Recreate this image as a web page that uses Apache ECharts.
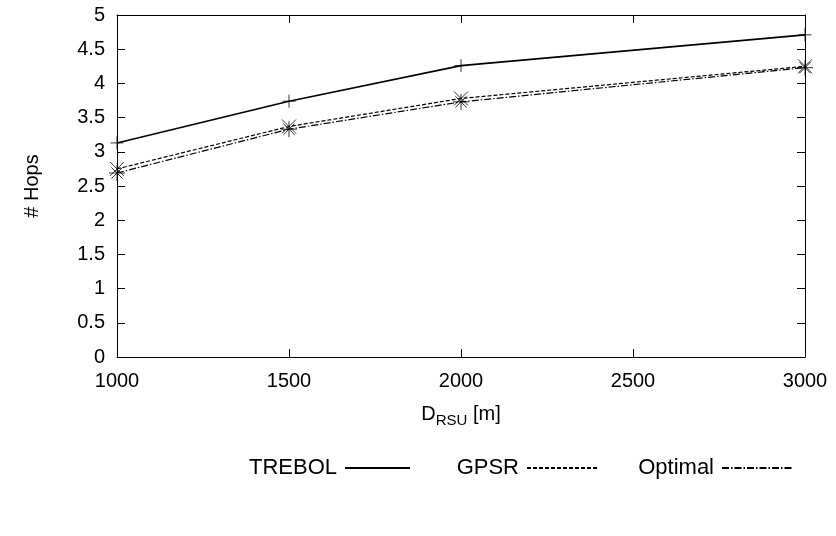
<!DOCTYPE html>
<html>
<head>
<meta charset="utf-8">
<script src="https://cdn.jsdelivr.net/npm/echarts@6/dist/echarts.min.js"></script>
<style>html,body{margin:0;padding:0;background:#fff;}#c{width:836px;height:536px;}</style>
</head>
<body>
<div id="c"></div>
<script>
const distances = [1000, 1500, 2000, 3000];
const trebol = [3.13, 3.74, 4.26, 4.71];
const gpsr = [2.75, 3.37, 3.78, 4.25];
const optimal = [2.69, 3.33, 3.73, 4.23];
const seriesNames = ['TREBOL', 'GPSR', 'Optimal'];

const plusPath = 'path://M0,5L10,5M5,0L5,10';
const xPath = 'path://M0,0L10,10M0,10L10,0';
const starPath = 'path://M0,5L10,5M5,0L5,10M1.5,1.5L8.5,8.5M1.5,8.5L8.5,1.5';

const font = 'Liberation Sans, Arial, sans-serif';
const zip = ys => distances.map((x, i) => [x, ys[i]]);

const chart = echarts.init(document.getElementById('c'), null, {renderer: 'canvas'});
const axisLine = {show: true, onZero: false, lineStyle: {color: '#000', width: 1}};
const tick = {show: true, inside: true, length: 8, lineStyle: {color: '#000'}};
const lineSeries = (name, ys, width, type) => ({
  name, type: 'line', data: zip(ys), symbol: 'none', color: '#000',
  lineStyle: {color: '#000', width, type}, z: 2
});
const markSeries = (ys, path, size) => ({
  type: 'scatter', data: zip(ys), symbol: path, symbolSize: size, z: 3,
  itemStyle: {color: 'none', borderColor: '#000', borderWidth: 1}
});
const legendItem = (name, right, w) => ({
  data: [name], right, top: 452, align: 'right',
  itemWidth: w, itemHeight: 14,
  itemStyle: {opacity: 0},
  textStyle: {fontFamily: font, fontSize: 22, color: '#000', padding: [0, 3, 0, 0]}
});
chart.setOption({
  animation: false,
  backgroundColor: '#fff',
  grid: {left: 117, right: 31, top: 15, bottom: 179},
  legend: [
    legendItem(seriesNames[0], 420, 65),
    legendItem(seriesNames[1], 231, 72),
    legendItem(seriesNames[2], 38, 70)
  ],
  xAxis: [{
    type: 'value', min: 1000, max: 3000, interval: 500,
    axisLine: axisLine, axisTick: tick, splitLine: {show: false},
    axisLabel: {fontFamily: font, fontSize: 20, color: '#000', margin: 14, formatter: v => String(v)},
    name: '{d|D}{s|RSU}{d| [m]}', nameLocation: 'middle', nameGap: 44,
    nameTextStyle: {rich: {
      d: {fontFamily: font, fontSize: 20, color: '#000'},
      s: {fontFamily: font, fontSize: 15, color: '#000', verticalAlign: 'bottom', padding: [12, 0, 0, 0]}
    }}
  }, {
    type: 'value', position: 'top', min: 1000, max: 3000, interval: 500,
    axisLine: axisLine, axisTick: tick, axisLabel: {show: false}, splitLine: {show: false}
  }],
  yAxis: [{
    type: 'value', min: 0, max: 5, interval: 0.5,
    axisLine: axisLine, axisTick: tick, splitLine: {show: false},
    axisLabel: {fontFamily: font, fontSize: 20, color: '#000', margin: 12},
    name: '# Hops', nameLocation: 'middle', nameGap: 75, nameRotate: 90,
    nameTextStyle: {fontFamily: font, fontSize: 20, color: '#000'}
  }, {
    type: 'value', position: 'right', min: 0, max: 5, interval: 0.5,
    axisLine: axisLine, axisTick: tick, axisLabel: {show: false}, splitLine: {show: false}
  }],
  series: [
    lineSeries(seriesNames[0], trebol, 1.6, 'solid'),
    lineSeries(seriesNames[1], gpsr, 1.2, [4, 2]),
    lineSeries(seriesNames[2], optimal, 1.2, [7, 2, 1.5, 2]),
    markSeries(trebol, plusPath, 13),
    markSeries(gpsr, xPath, 14),
    markSeries(optimal, starPath, 16)
  ]
});
</script>
</body>
</html>
